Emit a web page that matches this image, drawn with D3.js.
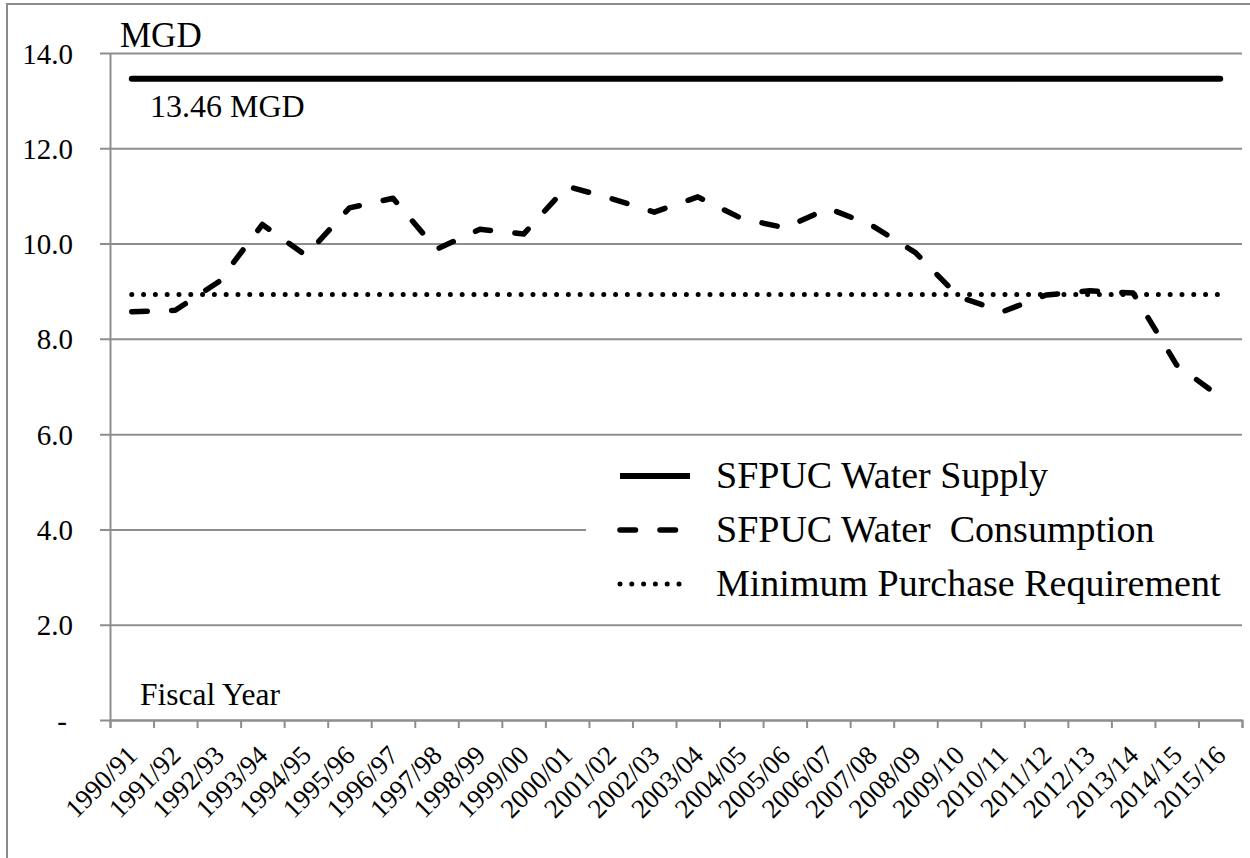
<!DOCTYPE html>
<html>
<head>
<meta charset="utf-8">
<script src="https://cdn.jsdelivr.net/npm/d3@7"></script>
<style>
  body { margin: 0; background: #fff; }
  text { font-family: "Liberation Serif", "Times New Roman", serif; fill: #000; }
</style>
</head>
<body>
<div id="chart"></div>
<script>
// DATA
// ------------------------------------------------------------------

var years = ["1990/91", "1991/92", "1992/93", "1993/94", "1994/95", "1995/96",
  "1996/97", "1997/98", "1998/99", "1999/00", "2000/01", "2001/02", "2002/03",
  "2003/04", "2004/05", "2005/06", "2006/07", "2007/08", "2008/09", "2009/10",
  "2010/11", "2011/12", "2012/13", "2013/14", "2014/15", "2015/16"];

// SFPUC water consumption, MGD
var consumption = [8.57, 8.60, 9.20, 10.40, 9.75, 10.75, 10.95, 9.88, 10.30,
  10.20, 11.20, 10.95, 10.66, 10.98, 10.53, 10.33, 10.74, 10.38, 9.81, 8.88,
  8.57, 8.92, 9.01, 8.96, 7.45, 6.78];

var supplyValue = 13.46,
    minimumPurchase = 8.93;

var yTicks = [0, 2, 4, 6, 8, 10, 12, 14];

var legendItems = ["SFPUC Water Supply", "SFPUC Water  Consumption",
  "Minimum Purchase Requirement"];

// CANVAS
// ------------------------------------------------------------------

var width = 1250,
    height = 858;

// plot box (note: "top" is reserved on window, so use plot* names)
var plotLeft = 110, plotRight = 1242, plotTop = 53, plotBottom = 720;

var svg = d3.select("#chart")
    .append("svg")
    .attr("width", width)
    .attr("height", height);

// outer frame
svg.append("rect")
    .attr("x", 7)
    .attr("y", 4)
    .attr("width", 1300)
    .attr("height", 900)
    .attr("fill", "none")
    .attr("stroke", "#8a8a8a")
    .attr("stroke-width", 2);

// AXES
// ------------------------------------------------------------------

var xBand = d3.scaleBand()
    .domain(years)
    .range([plotLeft, plotRight]);

var xEdge = d3.scaleLinear()
    .domain([0, years.length])
    .range([plotLeft, plotRight]);

var yScale = d3.scaleLinear()
    .domain([0, 14])
    .range([plotBottom, plotTop]);

function xMid(d) { return xBand(d) + xBand.bandwidth() / 2; }

var gridColor = "#8e8e8e";

var yAxis = d3.axisLeft(yScale)
    .tickValues(yTicks)
    .tickSize(0)
    .tickFormat(function(d) { return d === 0 ? "-" : d3.format(".1f")(d); });

var gy = svg.append("g")
    .attr("transform", "translate(" + plotLeft + ",0)")
    .call(yAxis)
    .attr("font-family", null)
    .attr("font-size", null);

gy.select(".domain")
    .attr("stroke", gridColor)
    .attr("stroke-width", 2);
gy.selectAll(".tick line")
    .attr("x1", -10)
    .attr("x2", plotRight - plotLeft)
    .attr("stroke", gridColor)
    .attr("stroke-width", 2);
gy.selectAll(".tick text")
    .attr("x", function(d) { return d === 0 ? -43 : -37; })
    .attr("dy", null)
    .attr("y", 10)
    .style("font-size", "29px");

// boundary ticks under the category axis
var gx = svg.append("g")
    .attr("transform", "translate(0," + plotBottom + ")")
    .call(d3.axisBottom(xEdge)
        .tickValues(d3.range(years.length + 1))
        .tickSize(8)
        .tickFormat(""));
gx.select(".domain")
    .attr("stroke", gridColor)
    .attr("stroke-width", 2);
gx.selectAll(".tick line")
    .attr("stroke", gridColor)
    .attr("stroke-width", 2);

// rotated category labels
var gl = svg.append("g")
    .attr("transform", "translate(0," + plotBottom + ")")
    .call(d3.axisBottom(xBand).tickSize(0))
    .attr("font-family", null)
    .attr("font-size", null);
gl.select(".domain").remove();
gl.selectAll(".tick text")
    .attr("x", 7)
    .attr("y", 37)
    .attr("dy", null)
    .attr("transform", "rotate(-45,7,37)")
    .style("text-anchor", "end")
    .style("font-size", "27px");

// LABELS
// ------------------------------------------------------------------

svg.append("text")
    .attr("x", 120)
    .attr("y", 47)
    .style("font-size", "35px")
    .text("MGD");

svg.append("text")
    .attr("x", 150)
    .attr("y", 117)
    .style("font-size", "32px")
    .text(d3.format(".2f")(supplyValue) + " MGD");

svg.append("text")
    .attr("x", 140)
    .attr("y", 705)
    .style("font-size", "31.5px")
    .text("Fiscal Year");

// LINES
// ------------------------------------------------------------------

var line = d3.line()
    .x(function(d) { return xMid(d[0]); })
    .y(function(d) { return yScale(d[1]); });

var first = years[0], last = years[years.length - 1];

var styles = [
  { width: 6, dash: null },
  { width: 5.5, dash: "15.5,24.5" },
  { width: 5, dash: "0,11.8" }
];

svg.append("path")
    .attr("d", line([[first, supplyValue], [last, supplyValue]]))
    .attr("fill", "none")
    .attr("stroke", "#000")
    .attr("stroke-width", styles[0].width)
    .attr("stroke-linecap", "round");

svg.append("path")
    .attr("d", line([[first, minimumPurchase], [last, minimumPurchase]]))
    .attr("fill", "none")
    .attr("stroke", "#000")
    .attr("stroke-width", styles[2].width)
    .attr("stroke-dasharray", styles[2].dash)
    .attr("stroke-linecap", "round");

svg.append("path")
    .attr("d", line(years.map(function(y, i) { return [y, consumption[i]]; })))
    .attr("fill", "none")
    .attr("stroke", "#000")
    .attr("stroke-width", styles[1].width)
    .attr("stroke-dasharray", styles[1].dash)
    .attr("stroke-linecap", "round")
    .attr("stroke-linejoin", "round");

// LEGEND
// ------------------------------------------------------------------

svg.append("rect")
    .attr("x", 586)
    .attr("y", 448)
    .attr("width", 660)
    .attr("height", 165)
    .attr("fill", "#fff");

var legend = svg.append("g")
    .attr("transform", "translate(620,476)");

var rows = legend.selectAll("g")
    .data(legendItems)
    .enter().append("g")
    .attr("transform", function(d, i) { return "translate(0," + i * 54 + ")"; });

rows.append("line")
    .attr("x1", 0)
    .attr("x2", 70)
    .attr("stroke", "#000")
    .attr("stroke-width", function(d, i) { return styles[i].width; })
    .attr("stroke-dasharray", function(d, i) { return styles[i].dash; })
    .attr("stroke-linecap", function(d, i) { return i === 0 ? "butt" : "round"; });

rows.append("text")
    .attr("x", 96)
    .attr("y", 12)
    .style("font-size", "38px")
    .style("white-space", "pre")
    .text(function(d) { return d; });
</script>
</body>
</html>
